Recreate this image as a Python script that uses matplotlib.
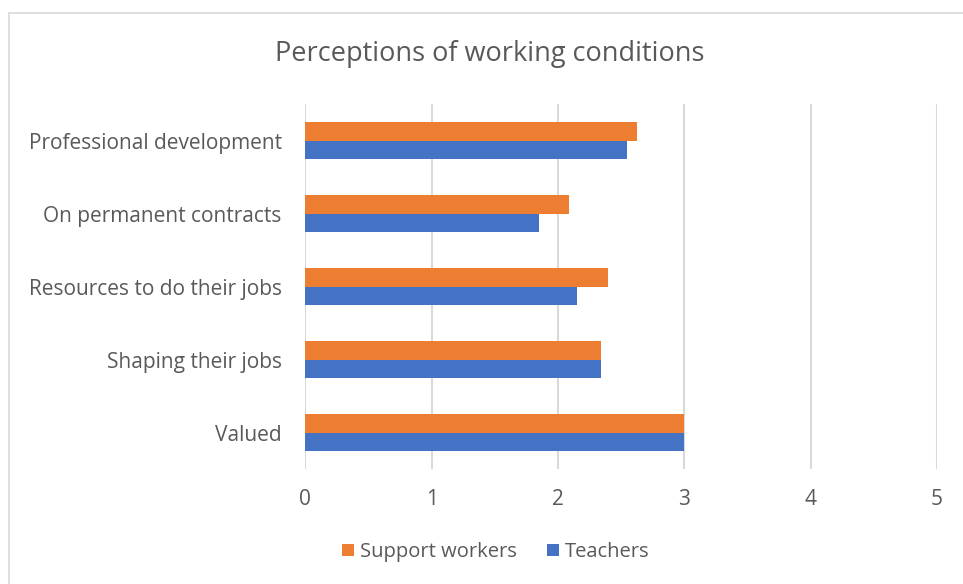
import matplotlib
matplotlib.use("Agg")
import matplotlib.pyplot as plt
from matplotlib.patches import Rectangle
import numpy as np

categories = [
    "Professional development",
    "On permanent contracts",
    "Resources to do their jobs",
    "Shaping their jobs",
    "Valued",
]
support_workers = [2.63, 2.09, 2.40, 2.34, 3.0]
teachers = [2.55, 1.85, 2.15, 2.34, 3.0]

ORANGE = "#ed7d31"
BLUE = "#4472c4"
TEXT = "#595959"
GRID = "#d9d9d9"

plt.rcParams["font.family"] = ["Open Sans", "DejaVu Sans"]

fig = plt.figure(figsize=(9.63, 5.84), dpi=100)
# light chart-area border (left and top edges only fall inside the canvas)
top = 1 - 12.5 / 584
fig.patches.append(Rectangle((8.5 / 963, -0.1), 1.2, top + 0.1, transform=fig.transFigure,
                             fill=False, edgecolor=GRID, linewidth=1.2))

ax = fig.add_axes([305.3 / 963, (584 - 469.2) / 584, 631.5 / 963, 365 / 584])

y = np.arange(len(categories))
h = 0.25
ax.barh(y - h / 2, support_workers, height=h, color=ORANGE, label="Support workers", zorder=3)
ax.barh(y + h / 2, teachers, height=h, color=BLUE, label="Teachers", zorder=3)

ax.set_ylim(len(categories) - 0.5, -0.5)
ax.set_xlim(0, 5)
ax.set_xticks(range(6))
ax.set_yticks(y)
ax.set_yticklabels(categories)
ax.grid(axis="x", color=GRID, linewidth=1.5, zorder=0)
for s in ax.spines.values():
    s.set_visible(False)
ax.tick_params(length=0, labelsize=15, labelcolor=TEXT)
ax.tick_params(axis="y", pad=17)
ax.tick_params(axis="x", pad=14)

fig.text(490 / 963, 1 - 54 / 584, "Perceptions of working conditions", ha="center", va="center",
         fontsize=19.5, color=TEXT)

ax.legend(loc="center", bbox_to_anchor=(496 / 963, 1 - 552 / 584), bbox_transform=fig.transFigure,
          ncol=2, frameon=False, fontsize=14.5, labelcolor=TEXT, handlelength=0.6, handleheight=0.6,
          handletextpad=0.3, columnspacing=1.5)

fig.savefig("out.png", dpi=100)
